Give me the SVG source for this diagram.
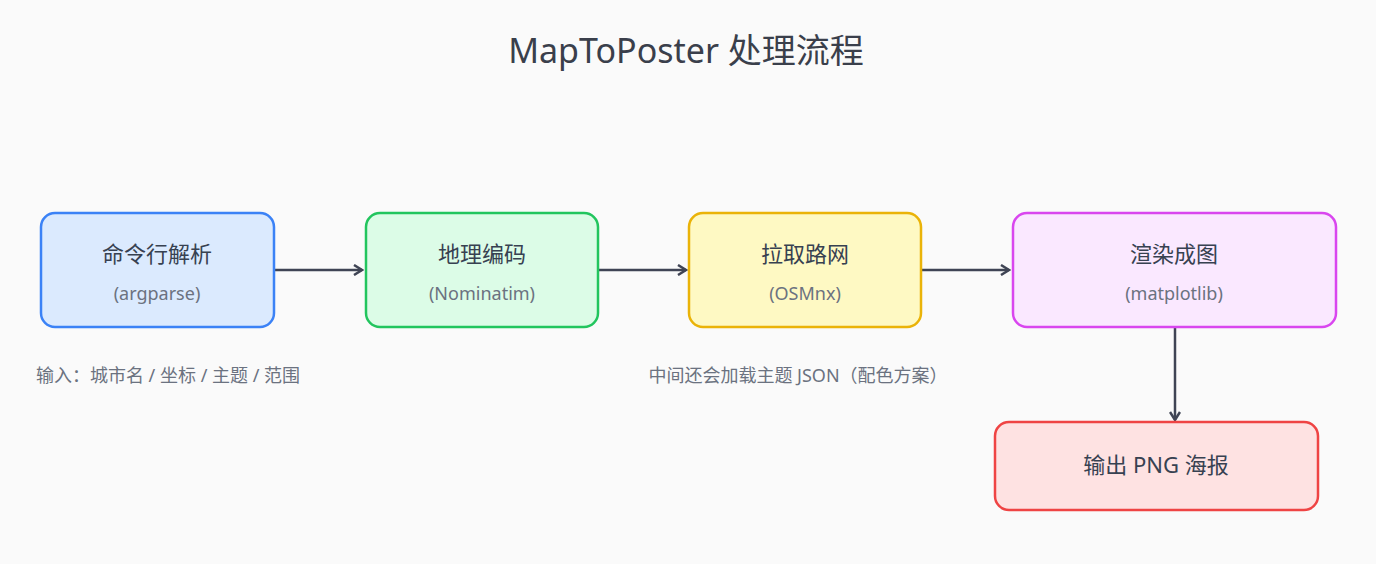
<svg xmlns="http://www.w3.org/2000/svg" width="1376" height="564" viewBox="0 0 1376 564">
<style>
text{font-family:"Noto Sans","Noto Sans CJK SC",sans-serif;text-anchor:middle}
.t{font-size:22px;fill:#374151}
.s{font-size:18px;fill:#6b7280}
.n{font-size:18px;fill:#6b7280}
.e{stroke:#3f4454;stroke-width:2.5;fill:none;marker-end:url(#a)}
rect{stroke-width:2.5}
</style>
<defs><marker id="a" markerWidth="12" markerHeight="12" refX="10" refY="6" orient="auto" markerUnits="userSpaceOnUse"><path d="M2,1 L10,6 L2,11" fill="none" stroke="#3f4454" stroke-width="2.5"/></marker></defs>
<rect width="1376" height="564" fill="#fafafa"/>
<text x="686" y="63" style="font-size:34px;fill:#3a3f4b">MapToPoster 处理流程</text>
<g id="connectors">
<path class="e" d="M275,270 H362"/>
<path class="e" d="M599,270 H686"/>
<path class="e" d="M922,270 H1009"/>
<path class="e" d="M1175,328 V420"/>
</g>
<g id="n1"><rect x="41" y="213" width="233" height="114" rx="14" fill="#dbeafe" stroke="#3b82f6"/><text class="t" x="157" y="262">命令行解析</text><text class="s" x="157" y="300">(argparse)</text></g>
<g id="n2"><rect x="366" y="213" width="232" height="114" rx="14" fill="#dcfce7" stroke="#22c55e"/><text class="t" x="482" y="262">地理编码</text><text class="s" x="482" y="300">(Nominatim)</text></g>
<g id="n3"><rect x="689" y="213" width="232" height="114" rx="14" fill="#fef9c3" stroke="#eab308"/><text class="t" x="805" y="262">拉取路网</text><text class="s" x="805" y="300">(OSMnx)</text></g>
<g id="n4"><rect x="1013" y="213" width="323" height="114" rx="14" fill="#fae8ff" stroke="#d946ef"/><text class="t" x="1174" y="262">渲染成图</text><text class="s" x="1174" y="300">(matplotlib)</text></g>
<g id="n5"><rect x="995" y="422" width="323" height="88" rx="14" fill="#fee2e2" stroke="#ef4444"/><text class="t" x="1156" y="473">输出 PNG 海报</text></g>
<text class="n" x="168" y="382">输入：城市名 / 坐标 / 主题 / 范围</text>
<text class="n" x="798" y="382">中间还会加载主题 JSON（配色方案）</text>
</svg>
